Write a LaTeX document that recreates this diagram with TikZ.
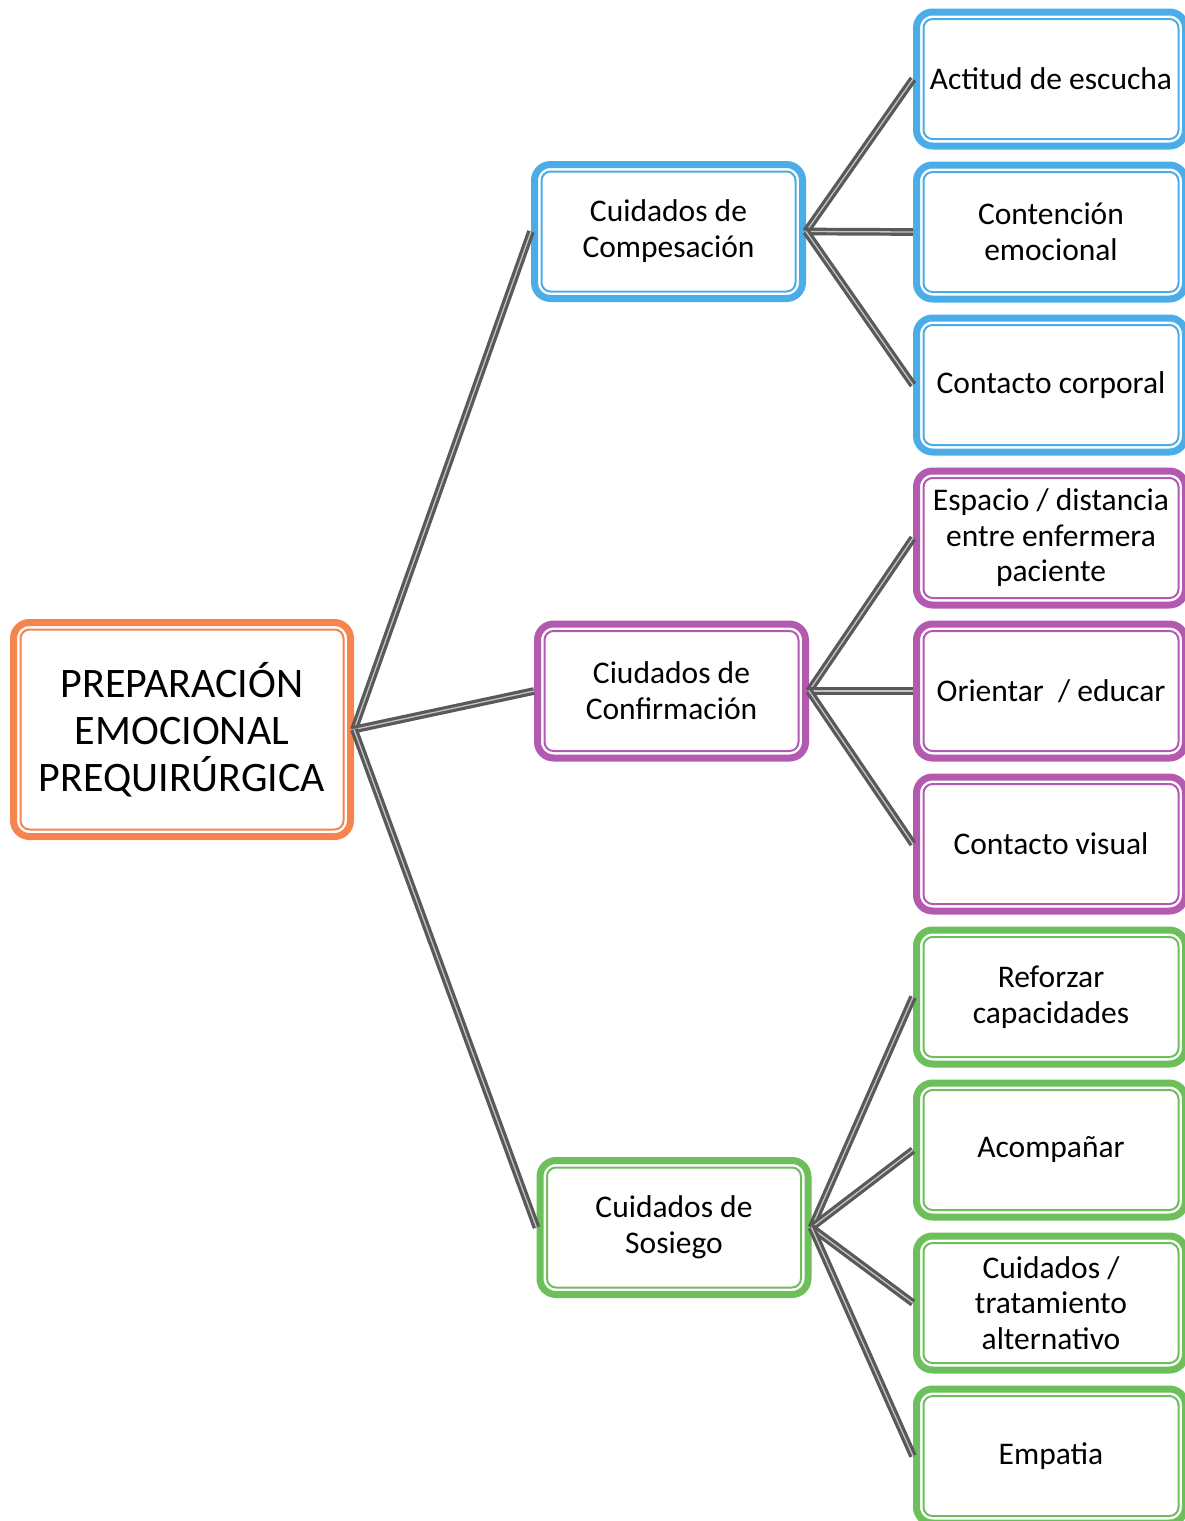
\documentclass[tikz,border=0pt]{standalone}
\usepackage{fontspec}
\setmainfont{Carlito}
\usepackage{tikz}
\usetikzlibrary{positioning}
\definecolor{orgC}{HTML}{F5844F}
\definecolor{bluC}{HTML}{4BADE8}
\definecolor{purC}{HTML}{B35AB0}
\definecolor{grnC}{HTML}{6CBF5A}
\definecolor{linkC}{HTML}{595959}
\definecolor{coreC}{HTML}{C4C4C4}

\begin{document}
\begin{tikzpicture}[
    x=1pt, y=-1pt,
    font=\fontsize{31.5}{36}\selectfont,
    node distance=12pt,
    card/.style={draw=#1, line width=7pt, rounded corners=16pt, fill=white,
                 align=center, inner sep=0pt, minimum height=134pt},
    leaf/.style={card=#1, minimum width=269pt},
    mid/.style={card=#1, minimum width=268pt},
    root/.style={card=orgC, minimum width=337pt, minimum height=214pt,
                 font=\fontsize{42}{47}\selectfont},
    rim/.style={draw=#1, line width=2pt, rounded corners=9pt},
    link/.style={draw=linkC, line width=3.2pt, double=coreC, double distance=1.3pt}
]
\useasboundingbox (0,0) rectangle (1184,1521);

% root and middle level
\node[root] (main) at (182,729.5) {PREPARACIÓN\\EMOCIONAL\\PREQUIRÚRGICA};
\node[mid=bluC] (comp) at (668.5,231.5) {Cuidados de\\Compesación};
\node[mid=purC] (conf) at (671.5,691) {Ciudados de\\Confirmación};
\node[mid=grnC] (sos) at (674,1227.5) {Cuidados de\\Sosiego};

% right column
\node[leaf=bluC] (escucha) at (1051,79) {Actitud de escucha};
\node[leaf=bluC, below=of escucha] (contencion) {Contención\\emocional};
\node[leaf=bluC, below=of contencion] (corporal) {Contacto corporal};
\node[leaf=purC, below=of corporal, font=\fontsize{31.5}{35.5}\selectfont] (espacio)
     {Espacio / distancia\\entre enfermera\\paciente};
\node[leaf=purC, below=of espacio] (orientar) {Orientar~ / educar};
\node[leaf=purC, below=of orientar] (visual) {Contacto visual};
\node[leaf=grnC, below=of visual] (reforzar) {Reforzar\\capacidades};
\node[leaf=grnC, below=of reforzar] (acompanar) {Acompañar};
\node[leaf=grnC, below=of acompanar, font=\fontsize{31.5}{35.5}\selectfont] (alternativo)
     {Cuidados /\\tratamiento\\alternativo};
\node[leaf=grnC, below=of alternativo] (empatia) {Empatia};

% connectors
\foreach \k in {comp,conf,sos} \draw[link] (main.east) -- (\k.west);
\foreach \k in {escucha,contencion,corporal} \draw[link] (comp.east) -- (\k.west);
\foreach \k in {espacio,orientar,visual} \draw[link] (conf.east) -- (\k.west);
\foreach \k in {reforzar,acompanar,alternativo,empatia} \draw[link] (sos.east) -- (\k.west);

% inner rims
\foreach \n/\c in {main/orgC,comp/bluC,conf/purC,sos/grnC,
    escucha/bluC,contencion/bluC,corporal/bluC,espacio/purC,orientar/purC,
    visual/purC,reforzar/grnC,acompanar/grnC,alternativo/grnC,empatia/grnC}
  \draw[rim=\c] ([xshift=10.5pt,yshift=10.5pt]\n.south west)
      rectangle ([xshift=-10.5pt,yshift=-10.5pt]\n.north east);
\end{tikzpicture}
\end{document}
